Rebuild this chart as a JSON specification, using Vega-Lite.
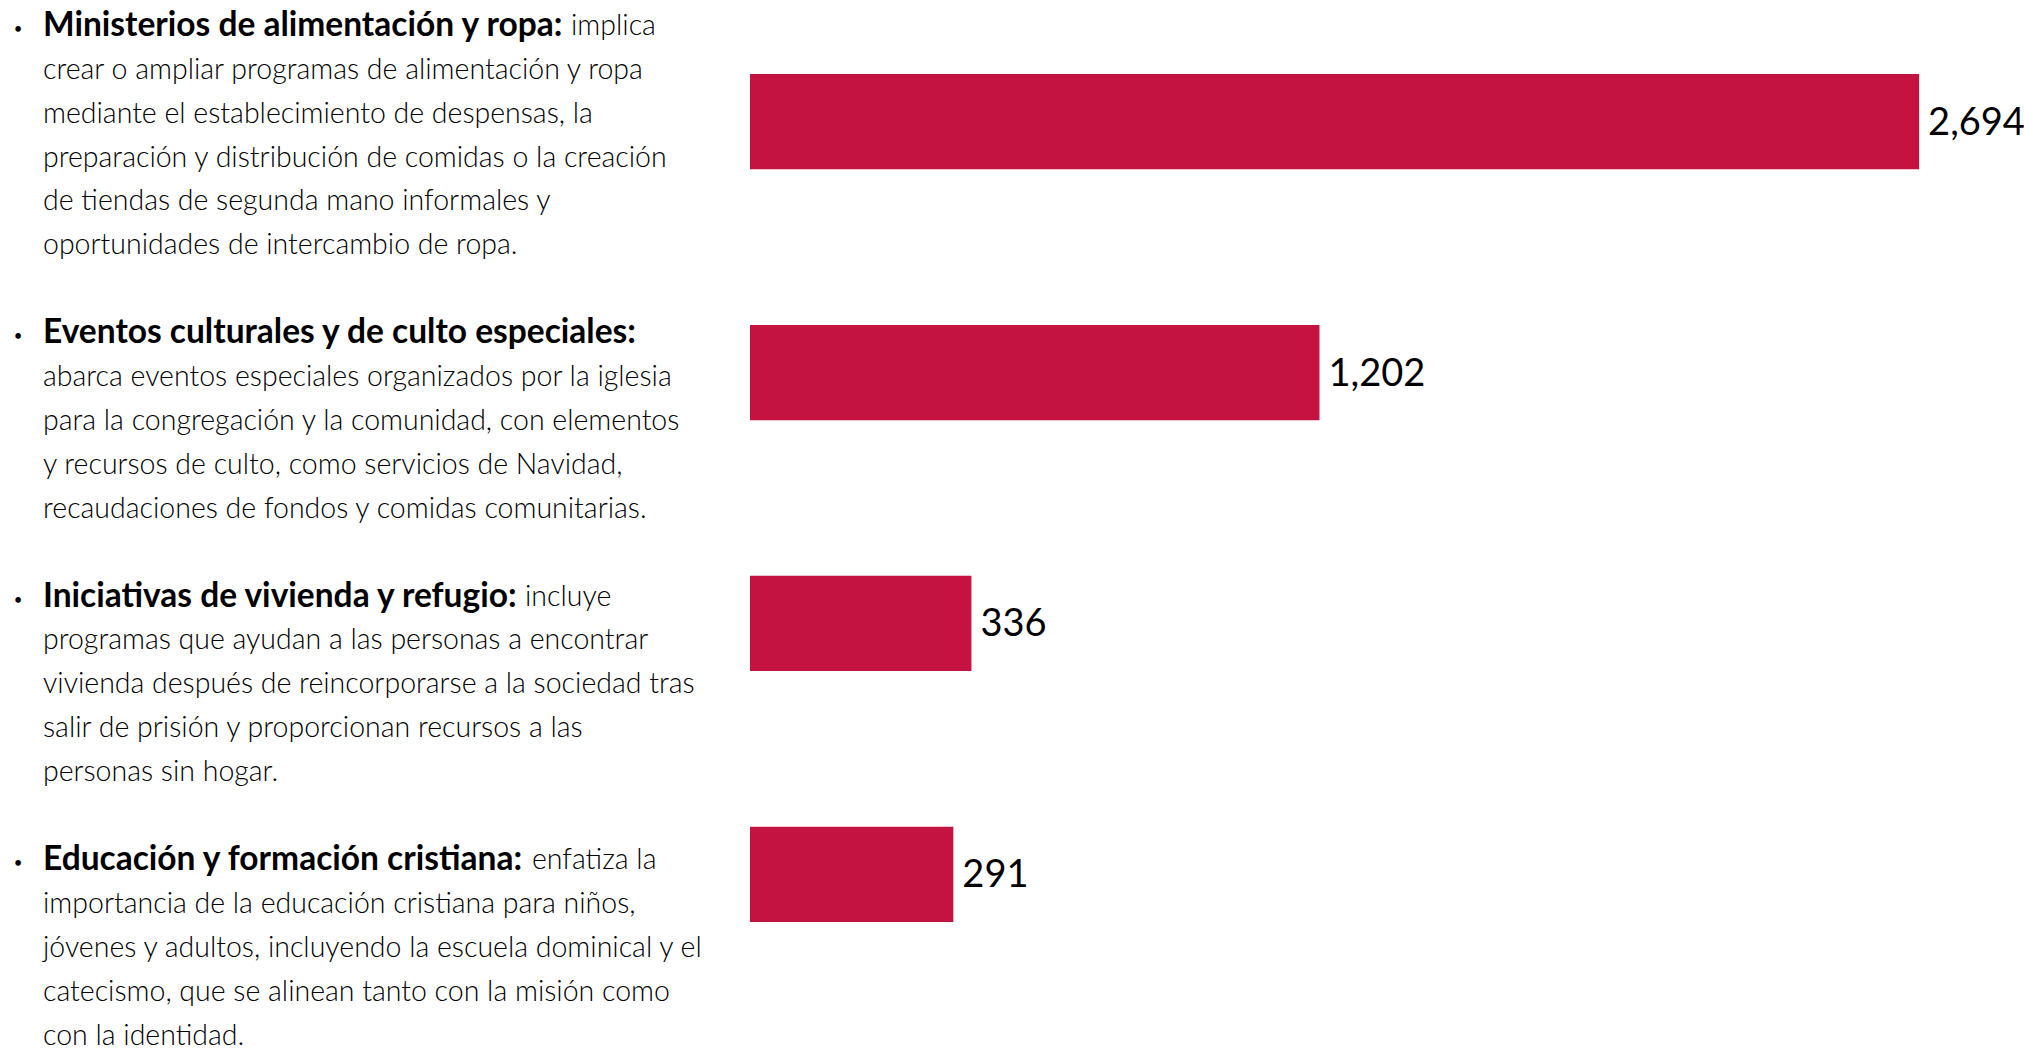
{
  "$schema": "https://vega.github.io/schema/vega-lite/v6.json",
  "padding": 0,
  "spacing": 30,
  "background": "white",
  "config": {"view": {"stroke": null}, "concat": {"spacing": 30}},
  "datasets": {
    "bars": [
      {"cat": "Ministerios de alimentación y ropa", "value": 2694},
      {"cat": "Eventos culturales y de culto especiales", "value": 1202},
      {"cat": "Iniciativas de vivienda y refugio", "value": 336},
      {"cat": "Educación y formación cristiana", "value": 291}
    ],
    "lines": [
      {"block": 1, "line": 0, "style": "bold", "text": "Ministerios de alimentación y ropa:"},
      {"block": 1, "line": 0, "style": "lead", "text": "implica"},
      {"block": 1, "line": 1, "style": "normal", "text": "crear o ampliar programas de alimentación y ropa"},
      {"block": 1, "line": 2, "style": "normal", "text": "mediante el establecimiento de despensas, la"},
      {"block": 1, "line": 3, "style": "normal", "text": "preparación y distribución de comidas o la creación"},
      {"block": 1, "line": 4, "style": "normal", "text": "de tiendas de segunda mano informales y"},
      {"block": 1, "line": 5, "style": "normal", "text": "oportunidades de intercambio de ropa."},
      {"block": 2, "line": 7, "style": "bold", "text": "Eventos culturales y de culto especiales:"},
      {"block": 2, "line": 8, "style": "normal", "text": "abarca eventos especiales organizados por la iglesia"},
      {"block": 2, "line": 9, "style": "normal", "text": "para la congregación y la comunidad, con elementos"},
      {"block": 2, "line": 10, "style": "normal", "text": "y recursos de culto, como servicios de Navidad,"},
      {"block": 2, "line": 11, "style": "normal", "text": "recaudaciones de fondos y comidas comunitarias."},
      {"block": 3, "line": 13, "style": "bold", "text": "Iniciativas de vivienda y refugio:"},
      {"block": 3, "line": 13, "style": "lead", "text": "incluye"},
      {"block": 3, "line": 14, "style": "normal", "text": "programas que ayudan a las personas a encontrar"},
      {"block": 3, "line": 15, "style": "normal", "text": "vivienda después de reincorporarse a la sociedad tras"},
      {"block": 3, "line": 16, "style": "normal", "text": "salir de prisión y proporcionan recursos a las"},
      {"block": 3, "line": 17, "style": "normal", "text": "personas sin hogar."},
      {"block": 4, "line": 19, "style": "bold", "text": "Educación y formación cristiana:"},
      {"block": 4, "line": 19, "style": "lead", "text": "enfatiza la"},
      {"block": 4, "line": 20, "style": "normal", "text": "importancia de la educación cristiana para niños,"},
      {"block": 4, "line": 21, "style": "normal", "text": "jóvenes y adultos, incluyendo la escuela dominical y el"},
      {"block": 4, "line": 22, "style": "normal", "text": "catecismo, que se alinean tanto con la misión como"},
      {"block": 4, "line": 23, "style": "normal", "text": "con la identidad."}
    ]
  },
  "hconcat": [
    {
      "width": 720,
      "height": 1050,
      "data": {"name": "lines"},
      "encoding": {
        "y": {"field": "line", "type": "quantitative", "scale": {"domain": [-0.59, 23.33], "reverse": true, "nice": false, "zero": false}, "axis": null}
      },
      "layer": [
        {
          "transform": [{"filter": "datum.style === 'bold'"}],
          "mark": {"type": "text", "align": "center", "baseline": "middle", "font": "Lato", "fontSize": 15, "dy": 3, "color": "#000000"},
          "encoding": {"x": {"value": 18}, "text": {"value": "•"}}
        },
        {
          "transform": [{"filter": "datum.style === 'bold'"}],
          "mark": {"type": "text", "align": "left", "baseline": "middle", "font": "Lato", "fontWeight": "bold", "fontSize": 33.5, "color": "#000000"},
          "encoding": {"x": {"value": 43}, "text": {"field": "text"}}
        },
        {
          "transform": [{"filter": "datum.style === 'normal'"}],
          "mark": {"type": "text", "align": "left", "baseline": "middle", "font": "Lato", "fontWeight": 300, "fontSize": 28.5, "color": "#000000"},
          "encoding": {"x": {"value": 43}, "text": {"field": "text"}}
        },
        {
          "transform": [{"filter": "datum.style === 'lead' && datum.block === 1"}],
          "mark": {"type": "text", "align": "left", "baseline": "middle", "font": "Lato", "fontWeight": 300, "fontSize": 28.5, "color": "#000000", "dx": 528},
          "encoding": {"x": {"value": 43}, "text": {"field": "text"}}
        },
        {
          "transform": [{"filter": "datum.style === 'lead' && datum.block === 3"}],
          "mark": {"type": "text", "align": "left", "baseline": "middle", "font": "Lato", "fontWeight": 300, "fontSize": 28.5, "color": "#000000", "dx": 482},
          "encoding": {"x": {"value": 43}, "text": {"field": "text"}}
        },
        {
          "transform": [{"filter": "datum.style === 'lead' && datum.block === 4"}],
          "mark": {"type": "text", "align": "left", "baseline": "middle", "font": "Lato", "fontWeight": 300, "fontSize": 28.5, "color": "#000000", "dx": 489},
          "encoding": {"x": {"value": 43}, "text": {"field": "text"}}
        }
      ]
    },
    {
      "width": 1274,
      "height": 996,
      "data": {"name": "bars"},
      "encoding": {
        "y": {"field": "cat", "type": "nominal", "sort": null, "scale": {"paddingInner": 0.62, "paddingOuter": 0.295}, "axis": null},
        "x": {"field": "value", "type": "quantitative", "scale": {"domain": [-215, 2955], "nice": false, "zero": false}, "axis": null}
      },
      "layer": [
        {
          "mark": {"type": "bar", "color": "#C41340"},
          "encoding": {"x2": {"datum": -215}}
        },
        {
          "mark": {"type": "text", "align": "left", "baseline": "middle", "dx": 9, "dy": 2, "font": "Lato", "fontSize": 38, "color": "#000000"},
          "encoding": {"text": {"field": "value", "type": "quantitative", "format": ",d"}}
        }
      ]
    }
  ]
}
